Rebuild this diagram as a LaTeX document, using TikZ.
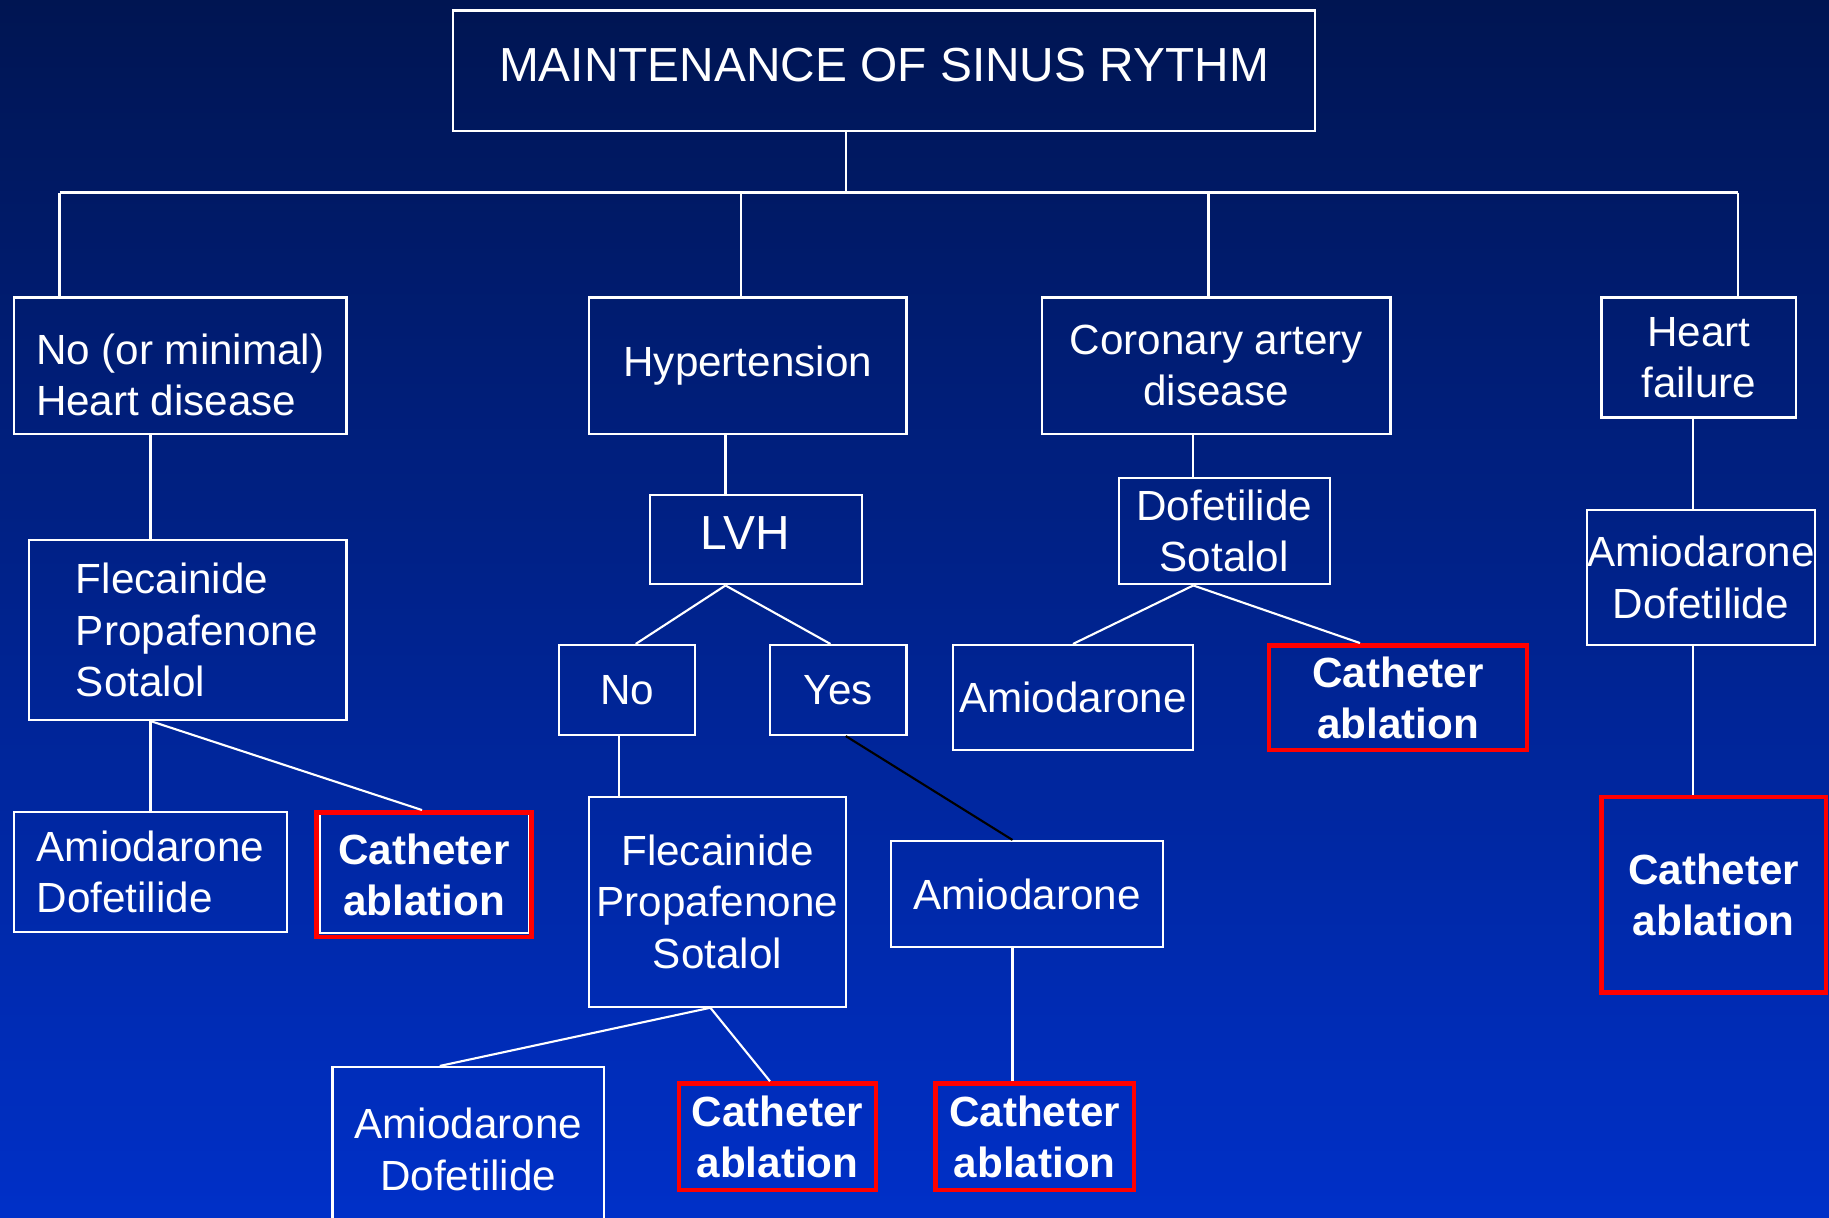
\documentclass[tikz,border=0pt]{standalone}
\usepackage{fontspec}
\setmainfont{Liberation Sans}
\definecolor{bgtop}{RGB}{0,21,82}
\definecolor{bgbot}{RGB}{0,48,200}
\tikzset{box/.style={draw=white, line width=0.6pt, text=white, inner sep=0pt, align=center,
		font=\fontsize{12}{14.6}\selectfont},
	cath/.style={box, draw=red, line width=1.4pt, font=\fontsize{12}{14.6}\selectfont\bfseries},
	wh/.style 2 args={minimum width=#1*0.01cm, minimum height=#2*0.01cm}}

\begin{document}
\begin{tikzpicture}[x=0.01cm, y=-0.01cm, color=white, line width=0.6pt]
	\useasboundingbox (0,0) rectangle (1829,1218);
	\clip (0,0) rectangle (1829,1218);
	\shade[top color=bgtop, bottom color=bgbot] (0,0) rectangle (1829,1218);

	\node[box, wh={862}{120.5}, font=\fontsize{13.6}{16}\selectfont] (title) at (884,70.75) {\rule[-0.12cm]{0pt}{0.12cm}MAINTENANCE OF SINUS RYTHM};

	\node[box, wh={332.5}{136.5}, align=left] (hd) at (180.25,365.75) {\rule{0pt}{0.49cm}No (or minimal)\\Heart disease};
	\node[box, wh={317.5}{136.5}] (ht) at (747.75,365.75) {Hypertension};
	\node[box, wh={348.5}{136.5}] (cad) at (1216.25,365.75) {Coronary artery\\disease};
	\node[box, wh={194.5}{120}] (hf) at (1698.75,357.5) {Heart\\failure};

	\node[box, wh={317.5}{180}, align=left] (fps1) at (187.75,630) {\hspace*{0.18cm}Flecainide\\\hspace*{0.18cm}Propafenone\\\hspace*{0.18cm}Sotalol};
	\node[box, wh={273}{120}, align=left] (ad1) at (150.5,872) {Amiodarone\\Dofetilide};
	\node[box, wh={208.6}{119.6}] (ca1w) at (424.3,872.8) {};
	\node[cath, wh={215.5}{124.5}] (ca1) at (424,874.75) {Catheter\\ablation};

	\node[box, wh={212}{89.8}, font=\fontsize{13.6}{16}\selectfont] (lvh) at (756,539.5) {\rule[-0.124cm]{0pt}{0.124cm}\mbox{LVH\kern0.21cm}};
	\node[box, wh={136}{90}] (no) at (627,690) {No};
	\node[box, wh={136.5}{90}] (yes) at (838.25,690) {Yes};
	\node[box, wh={257}{209.7}] (fps2) at (717.5,901.85) {Flecainide\\Propafenone\\Sotalol};
	\node[box, wh={271.5}{165}] (ad2) at (468.25,1149.5) {Amiodarone\\Dofetilide};
	\node[cath, wh={197}{106.3}] (ca2) at (777.5,1136.85) {Catheter\\ablation};
	\node[box, wh={272}{106}] (am2) at (1027,894) {Amiodarone};
	\node[cath, wh={198.5}{106.3}] (ca3) at (1034.75,1136.85) {Catheter\\ablation};

	\node[box, wh={211.4}{106.4}] (ds) at (1224.3,531.2) {Dofetilide\\Sotalol};
	\node[box, wh={240}{105}] (am3) at (1073,697.5) {Amiodarone};
	\node[cath, wh={258}{104.5}] (ca4) at (1398,697.75) {Catheter\\ablation};

	\node[box, wh={226.4}{135.2}] (ad4) at (1700.8,577.4) {Amiodarone\\Dofetilide};
	\node[cath, wh={224.5}{195.7}] (ca5) at (1713.75,894.85) {Catheter\\ablation};

	\coordinate (bus) at (846,192.5);
	\coordinate (busl) at (59.5,192.5);
	\coordinate (busr) at (1738,192.5);
	\draw (title.south -| bus) -- (bus);
	\draw (busl) -- (busr);
	\foreach \x/\n in {59.5/hd,741/ht,1208.5/cad,1738/hf}{
		\coordinate (d\n) at (\x,192.5);
		\draw (d\n) -- (d\n |- \n.north);
	}

	\coordinate (vl) at (150.5,0);
	\draw (vl |- hd.south) -- (vl |- fps1.north);
	\draw (vl |- fps1.south) coordinate (j1) -- (ad1.north);
	\draw (j1) -- ([xshift=-0.02cm]ca1.north);

	\coordinate (vm) at (725.5,0);
	\draw (vm |- ht.south) -- (vm |- lvh.north);
	\draw (vm |- lvh.south) coordinate (j2) -- ([xshift=0.087cm]no.north);
	\draw (j2) -- ([xshift=-0.078cm]yes.north);
	\coordinate (vn) at ([xshift=-0.076cm]no.south);
	\draw (vn) -- (vn |- fps2.north);
	\coordinate (j3) at ([xshift=-0.071cm]fps2.south);
	\draw (j3) -- ([xshift=-0.285cm]ad2.north);
	\draw (j3) -- ([xshift=-0.075cm]ca2.north);
	\draw[black] ([xshift=0.075cm]yes.south) -- ([xshift=-0.145cm]am2.north);
	\coordinate (va) at ([xshift=-0.145cm]am2.south);
	\draw (va) -- (va |- ca3.north);

	\coordinate (vc) at (1193.3,0);
	\draw (vc |- cad.south) -- (vc |- ds.north);
	\draw (vc |- ds.south) coordinate (j4) -- (am3.north);
	\draw (j4) -- ([xshift=-0.38cm]ca4.north);

	\coordinate (vr) at (1692.6,0);
	\draw (vr |- hf.south) -- (vr |- ad4.north);
	\draw (vr |- ad4.south) -- (vr |- ca5.north);
\end{tikzpicture}
\end{document}
